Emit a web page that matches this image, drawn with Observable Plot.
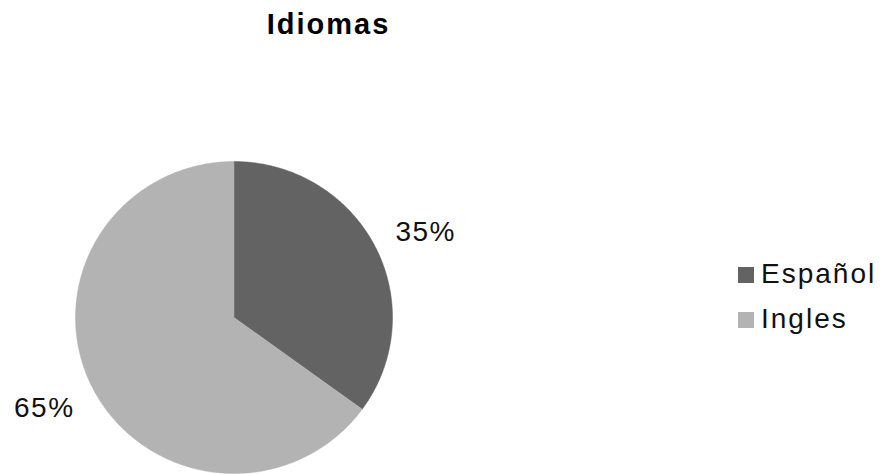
<!DOCTYPE html>
<html>
<head>
<meta charset="utf-8">
<script src="https://cdn.jsdelivr.net/npm/d3@7"></script>
<script src="https://cdn.jsdelivr.net/npm/@observablehq/plot@0.6"></script>
<style>
  html, body { margin: 0; padding: 0; background: #fff; }
  #wrap { position: relative; width: 881px; height: 474px; overflow: hidden; font-family: "Liberation Sans", Arial, sans-serif; }
  #title { position: absolute; left: 0; width: 657px; top: 8px; text-align: center; font-weight: bold; font-size: 29px; letter-spacing: 2px; color: #000; }
  #legend { position: absolute; left: 738px; top: 251px; font-size: 28px; letter-spacing: 2px; color: #111; }
  .row { display: flex; align-items: center; height: 45px; }
  .sw { width: 16px; height: 16px; margin-right: 7px; margin-top: 3px; }
  #chart text { letter-spacing: 1.5px; }
</style>
</head>
<body>
<div id="wrap">
  <div id="chart"></div>
  <div id="title">Idiomas</div>
  <div id="legend"></div>
</div>
<script>
const categories = ["Español", "Ingles"];
const values = [35, 65];
const labels = ["35%", "65%"];
const colors = ["#636363", "#b3b3b3"];

// pie geometry (unit circle, starting at 12 o'clock, clockwise)
const arcs = d3.pie().sort(null)(values);
const slices = arcs.map((a, i) => {
  const pts = [{u: 0, v: 0}];
  const n = Math.max(2, Math.ceil((a.endAngle - a.startAngle) / (Math.PI / 360)));
  for (let k = 0; k <= n; k++) {
    const t = a.startAngle + (a.endAngle - a.startAngle) * k / n;
    pts.push({u: Math.sin(t), v: Math.cos(t)});
  }
  pts.push({u: 0, v: 0});
  return {name: categories[i], color: colors[i], pts};
});
const labelData = arcs.map((a, i) => {
  const m = (a.startAngle + a.endAngle) / 2;
  const r = 1.15;
  const right = Math.sin(m) >= 0;
  return {
    u: Math.sin(m) * r, v: Math.cos(m) * r, text: labels[i],
    anchor: right ? "start" : "end",
    dx: right ? -1 : 3,
    dy: Math.cos(m) >= 0 ? -4 : 9
  };
});

const cx = 233.5, cy = 317, rx = 158.5, ry = 156, W = 881, H = 474;
const chart = Plot.plot({
  width: W, height: H, margin: 0,
  x: {domain: [-cx / rx, (W - cx) / rx], axis: null},
  y: {domain: [(cy - H) / ry, cy / ry], axis: null},
  style: {background: "#fff", fontFamily: "'Liberation Sans', Arial, sans-serif"},
  marks: [
    ...slices.map(s => Plot.line(s.pts, {x: "u", y: "v", fill: s.color, stroke: s.color, strokeWidth: 0.5, curve: "linear"})),
    ...labelData.map(d => Plot.text([d], {x: "u", y: "v", text: "text", textAnchor: d.anchor, lineAnchor: "middle", dx: d.dx, dy: d.dy, fontSize: 28, fill: "#111"}))
  ]
});
document.getElementById("chart").appendChild(chart);

const legend = document.getElementById("legend");
categories.forEach((c, i) => {
  const row = document.createElement("div");
  row.className = "row";
  row.innerHTML = `<div class="sw" style="background:${colors[i]}"></div><span>${c}</span>`;
  legend.appendChild(row);
});
</script>
</body>
</html>
